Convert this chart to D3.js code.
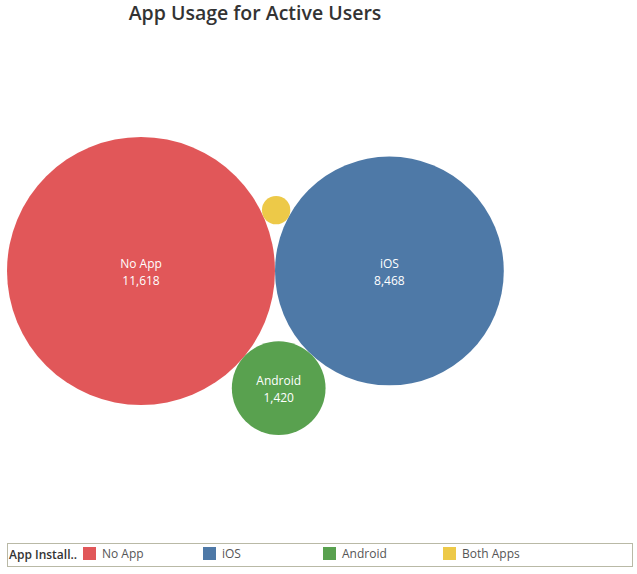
<!DOCTYPE html>
<html>
<head>
<meta charset="utf-8">
<script src="https://cdn.jsdelivr.net/npm/d3@7"></script>
<style>
  body { margin: 0; background: #fff; }
  svg { display: block; font-family: "Open Sans", "Noto Sans", sans-serif; }
</style>
</head>
<body>
<div id="chart"></div>
<script>
// App Usage for Active Users - packed bubbles

const categories = ["No App", "iOS", "Android", "Both Apps"]
const users = [11618, 8468, 1420, 130]
const colors = ["#E15759", "#4E79A7", "#59A14F", "#EDC948"]

const width = 637
const height = 574

const svg = d3.select("#chart")
    .append("svg")
    .attr("width", width)
    .attr("height", height)

svg.append("text")
    .attr("x", 255)
    .attr("y", 20)
    .attr("text-anchor", "middle")
    .style("font-size", "19.5px")
    .style("font-weight", 600)
    .style("fill", "#333")
    .text("App Usage for Active Users")

// bubble size
const r = d3.scaleSqrt()
    .domain([0, d3.max(users)])
    .range([0, 134])

const color = d3.scaleOrdinal()
    .domain(categories)
    .range(colors)

const nodes = categories.map((c, i) => ({ name: c, value: users[i], r: r(users[i]) }))
d3.packSiblings(nodes)

// place the packed group: left edge at x=7, vertically centred around y=286
const xExt = [d3.min(nodes, d => d.x - d.r), d3.max(nodes, d => d.x + d.r)]
const yExt = [d3.min(nodes, d => d.y - d.r), d3.max(nodes, d => d.y + d.r)]
const flip = nodes[2].y < 0 ? -1 : 1 // keep Android below the big pair
const g = svg.append("g")
    .attr("transform", "translate(" + (7 - xExt[0]) + "," + (286 - flip * (yExt[0] + yExt[1]) / 2) + ")")

const bubble = g.selectAll("g.bubble")
    .data(nodes)
    .enter()
    .append("g")
    .attr("class", "bubble")
    .attr("transform", d => "translate(" + d.x + "," + (flip * d.y) + ")")

bubble.append("circle")
    .attr("r", d => d.r)
    .attr("fill", d => color(d.name))

const fmt = d3.format(",")
const labelled = bubble.filter(d => d.r > 30)

labelled.append("text")
    .attr("y", -3)
    .attr("text-anchor", "middle")
    .style("font-size", "12px")
    .style("fill", "#fff")
    .text(d => d.name)

labelled.append("text")
    .attr("y", 14)
    .attr("text-anchor", "middle")
    .style("font-size", "12px")
    .style("fill", "#fff")
    .text(d => fmt(d.value))

// legend
const legend = svg.append("g")

legend.append("rect")
    .attr("x", 7.5)
    .attr("y", 543.5)
    .attr("width", 625)
    .attr("height", 23)
    .attr("fill", "none")
    .attr("stroke", "#b9b9a6")

legend.append("text")
    .attr("x", 9)
    .attr("y", 559)
    .style("font-size", "12px")
    .style("font-weight", 600)
    .style("fill", "#333")
    .text("App Install..")

const item = legend.selectAll("g.item")
    .data(categories)
    .enter()
    .append("g")
    .attr("class", "item")
    .attr("transform", (d, i) => "translate(" + (83 + i * 120) + ",547)")

item.append("rect")
    .attr("width", 13)
    .attr("height", 13)
    .attr("fill", d => color(d))

item.append("text")
    .attr("x", 19)
    .attr("y", 11)
    .style("font-size", "12px")
    .style("fill", "#555")
    .text(d => d)
</script>
</body>
</html>
